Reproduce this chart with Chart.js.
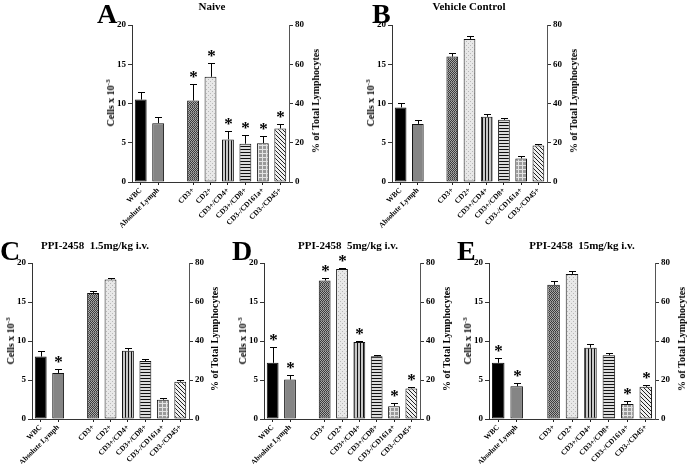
<!DOCTYPE html>
<html>
<head>
<meta charset="utf-8">
<script src="https://cdn.jsdelivr.net/npm/chart.js@4.4.1/dist/chart.umd.min.js"></script>
<style>
  body { margin: 0; background: #fff; width: 688px; height: 464px; position: relative; overflow: hidden; font-family: "Liberation Serif", "Times New Roman", serif; }
  canvas { position: absolute; }
  .t { position: absolute; font-weight: bold; white-space: nowrap; color: #000; line-height: 1; }
  .letter { font-size: 28px; }
  .title { font-size: 11px; transform: translateX(-50%); }
  .ax { font-size: 10px; transform: translate(-50%, -50%) rotate(-90deg); }
  .ax sup { font-size: 7px; vertical-align: 4px; line-height: 0; }
</style>
</head>
<body>
<script>
    const categories = ['WBC', 'Absolute Lymph', '', 'CD3+', 'CD2+', 'CD3+/CD4+', 'CD3+/CD8+', 'CD3-/CD161a+', 'CD3-/CD45+'];
    const cellTicks = [0, 5, 10, 15, 20];
    const pctTicks = [0, 20, 40, 60, 80];

    // WBC / Absolute Lymph in cells x 10^3 (left axis), subsets in % of lymphocytes (right axis)
    const naiveCells = [10.5, 7.5];
    const naiveCellsErr = [1.0, 0.8];
    const naivePct = [41.5, 53.6, 21.7, 19.5, 19.8, 27.3];
    const naivePctErr = [8.5, 7.1, 4.2, 4.4, 3.7, 2.4];
    const naiveStars = [0, 0, 0, 1, 1, 1, 1, 1, 1];

    const vehicleCells = [9.5, 7.4];
    const vehicleCellsErr = [0.55, 0.55];
    const vehiclePct = [63.9, 72.9, 33.2, 31.7, 12.0, 18.6];
    const vehiclePctErr = [2.0, 1.7, 1.5, 0.9, 1.5, 0.8];
    const vehicleStars = [0, 0, 0, 0, 0, 0, 0, 0, 0];

    const dose15Cells = [8.0, 5.9];
    const dose15CellsErr = [0.73, 0.47];
    const dose15Pct = [64.6, 71.5, 35.0, 29.7, 9.9, 19.1];
    const dose15PctErr = [1.2, 1.0, 1.5, 1.0, 1.0, 0.7];
    const dose15Stars = [0, 1, 0, 0, 0, 0, 0, 0, 0];

    const dose5Cells = [7.2, 5.05];
    const dose5CellsErr = [2.05, 0.56];
    const dose5Pct = [71.0, 76.9, 39.5, 32.2, 6.6, 15.7];
    const dose5PctErr = [1.2, 0.5, 0.7, 0.5, 1.4, 0.7];
    const dose5Stars = [1, 1, 0, 1, 1, 1, 0, 1, 1];

    const dose15mgCells = [7.2, 4.2];
    const dose15mgCellsErr = [0.68, 0.43];
    const dose15mgPct = [68.8, 74.4, 36.6, 32.7, 7.7, 16.5];
    const dose15mgPctErr = [2.2, 1.7, 1.7, 1.4, 1.5, 0.7];
    const dose15mgStars = [1, 1, 0, 0, 0, 0, 0, 1, 1];

    const FONT = '"Liberation Serif", "Times New Roman", serif';

    function makePattern(w, h, draw) {
      const c = document.createElement('canvas');
      c.width = w; c.height = h;
      const g = c.getContext('2d');
      draw(g);
      return g.createPattern(c, 'repeat');
    }

    function barFills() {
      const cd3 = makePattern(2, 6, g => {
        g.fillStyle = '#a8a8a8'; g.fillRect(0, 0, 2, 6);
        g.fillStyle = '#3a3a3a';
        for (let y = 0; y < 6; y++) g.fillRect(y % 2, y, 1, 1);
        g.fillStyle = '#777'; g.fillRect(0, 5, 2, 1);
      });
      const cd2 = makePattern(4, 4, g => {
        g.fillStyle = '#e8e8e8'; g.fillRect(0, 0, 4, 4);
        g.fillStyle = '#b8b8b8'; g.fillRect(0, 0, 1, 1); g.fillRect(2, 2, 1, 1);
      });
      const cd4 = makePattern(3, 1, g => {
        g.fillStyle = '#c8c8c8'; g.fillRect(0, 0, 3, 1);
        g.fillStyle = '#111'; g.fillRect(0, 0, 1, 1);
      });
      const cd8 = makePattern(1, 3, g => {
        g.fillStyle = '#dcdcdc'; g.fillRect(0, 0, 1, 3);
        g.fillStyle = '#111'; g.fillRect(0, 0, 1, 1);
      });
      const cd161 = makePattern(4, 4, g => {
        g.fillStyle = '#9a9a9a'; g.fillRect(0, 0, 4, 4);
        g.fillStyle = '#e4e4e4'; g.fillRect(0, 0, 4, 1); g.fillRect(0, 0, 1, 4);
      });
      const cd45 = makePattern(4, 4, g => {
        g.fillStyle = '#f0f0f0'; g.fillRect(0, 0, 4, 4);
        g.fillStyle = '#222'; for (let i = 0; i < 4; i++) g.fillRect(i, i, 1, 1);
      });
      return ['#000000', '#858585', '#fff', cd3, cd2, cd4, cd8, cd161, cd45];
    }

    const errorBars = {
      id: 'errorBars',
      afterDatasetsDraw(chart) {
        const ctx = chart.ctx;
        const stars = chart.options.plugins.errorBars.stars;
        chart.data.datasets.forEach((ds, i) => {
          const meta = chart.getDatasetMeta(i);
          const scale = chart.scales[ds.yAxisID];
          meta.data.forEach((bar, j) => {
            const v = ds.data[j];
            if (v == null) return;
            const x = Math.round(bar.x) + 0.5;
            const top = Math.round(scale.getPixelForValue(v + ds.err[j])) + 0.5;
            ctx.save();
            ctx.strokeStyle = '#000';
            ctx.lineWidth = 1;
            ctx.beginPath();
            ctx.moveTo(x, bar.y);
            ctx.lineTo(x, top);
            ctx.moveTo(x - 3.5, top);
            ctx.lineTo(x + 3.5, top);
            ctx.stroke();
            if (stars[j]) {
              ctx.fillStyle = '#000';
              ctx.font = 'bold 17px ' + FONT;
              ctx.textAlign = 'center';
              ctx.textBaseline = 'alphabetic';
              ctx.fillText('*', x, top - 3);
            }
            ctx.restore();
          });
        });
      }
    };

    const PAD_L = 30, PAD_R = 30, PAD_T = 8, PAD_B = 62;

    function addText(cls, html, left, top) {
      const d = document.createElement('div');
      d.className = 't ' + cls;
      d.innerHTML = html;
      d.style.left = left + 'px';
      d.style.top = top + 'px';
      document.body.appendChild(d);
    }

    function drawPanel(p) {
      const canvas = document.createElement('canvas');
      canvas.width = Math.round(p.R - p.L + PAD_L + PAD_R);
      canvas.height = Math.round(p.B - p.T + PAD_T + PAD_B);
      canvas.style.left = (p.L - PAD_L) + 'px';
      canvas.style.top = (p.T - PAD_T) + 'px';
      document.body.appendChild(canvas);

      const fills = barFills();
      const cellData = categories.map((c, i) => i < p.cells.length ? p.cells[i] : null);
      const cellErr = categories.map((c, i) => i < p.cellsErr.length ? p.cellsErr[i] : 0);
      const pctData = categories.map((c, i) => i >= 3 ? p.pct[i - 3] : null);
      const pctErr = categories.map((c, i) => i >= 3 ? p.pctErr[i - 3] : 0);
      const tickFont = { family: FONT, size: 9, weight: 'bold' };

      new Chart(canvas.getContext('2d'), {
        type: 'bar',
        data: {
          labels: categories,
          datasets: [
            { data: cellData, err: cellErr, yAxisID: 'y', backgroundColor: fills, borderColor: '#111', borderWidth: 1, borderSkipped: false },
            { data: pctData, err: pctErr, yAxisID: 'y2', backgroundColor: fills, borderColor: '#111', borderWidth: 1, borderSkipped: false }
          ]
        },
        options: {
          responsive: false,
          animation: false,
          layout: { padding: { top: PAD_T } },
          datasets: { bar: { grouped: false, barPercentage: 0.68, categoryPercentage: 1 } },
          plugins: {
            legend: { display: false },
            tooltip: { enabled: false },
            errorBars: { stars: p.stars }
          },
          scales: {
            x: {
              grid: {
                drawOnChartArea: false, offset: false, tickLength: 3,
                color: c => categories[c.index] ? '#222' : 'rgba(0,0,0,0)'
              },
              border: { display: true, color: '#333', width: 1 },
              ticks: { minRotation: 45, maxRotation: 45, autoSkip: false, padding: 1, color: '#000', font: { family: FONT, size: 7.5, weight: 'bold' } },
              afterFit: s => { s.height = PAD_B; }
            },
            y: {
              position: 'left', min: 0, max: 20,
              afterBuildTicks: s => { s.ticks = cellTicks.map(v => ({ value: v })); },
              grid: { drawOnChartArea: false, tickLength: 4, color: '#333' },
              border: { display: true, color: '#333', width: 1 },
              ticks: { padding: 2, color: '#000', font: tickFont },
              afterFit: s => { s.width = PAD_L; }
            },
            y2: {
              position: 'right', min: 0, max: 80,
              afterBuildTicks: s => { s.ticks = pctTicks.map(v => ({ value: v })); },
              grid: { drawOnChartArea: false, tickLength: 4, color: '#333' },
              border: { display: true, color: '#555', width: 1 },
              ticks: { padding: 2, color: '#000', font: tickFont },
              afterFit: s => { s.width = PAD_R; }
            }
          }
        },
        plugins: [errorBars]
      });

      addText('letter', p.letter, p.letterX, p.letterY);
      addText('title', p.title, p.titleX, p.titleY);
      const midY = (p.T + p.B) / 2;
      addText('ax', 'Cells x 10<sup>-3</sup>', p.L - 21, midY);
      addText('ax', '% of Total Lymphocytes', p.R + 27, midY - 2);
    }

    const panels = [
      { letter: 'A', title: 'Naive', L: 132, R: 289, T: 24.5, B: 181.5, letterX: 97, letterY: 0, titleX: 212, titleY: 1,
        cells: naiveCells, cellsErr: naiveCellsErr, pct: naivePct, pctErr: naivePctErr, stars: naiveStars },
      { letter: 'B', title: 'Vehicle Control', L: 392, R: 547, T: 24.5, B: 181.5, letterX: 372, letterY: 0, titleX: 469, titleY: 1,
        cells: vehicleCells, cellsErr: vehicleCellsErr, pct: vehiclePct, pctErr: vehiclePctErr, stars: vehicleStars },
      { letter: 'C', title: 'PPI-2458&nbsp;&nbsp;1.5mg/kg i.v.', L: 31.5, R: 188, T: 262.5, B: 418.5, letterX: 0, letterY: 237, titleX: 95, titleY: 240,
        cells: dose15Cells, cellsErr: dose15CellsErr, pct: dose15Pct, pctErr: dose15PctErr, stars: dose15Stars },
      { letter: 'D', title: 'PPI-2458&nbsp;&nbsp;5mg/kg i.v.', L: 263.5, R: 419.5, T: 262.5, B: 418.5, letterX: 232, letterY: 237, titleX: 348, titleY: 240,
        cells: dose5Cells, cellsErr: dose5CellsErr, pct: dose5Pct, pctErr: dose5PctErr, stars: dose5Stars },
      { letter: 'E', title: 'PPI-2458&nbsp;&nbsp;15mg/kg i.v.', L: 488.5, R: 654.5, T: 262.5, B: 418.5, letterX: 457, letterY: 237, titleX: 582, titleY: 240,
        cells: dose15mgCells, cellsErr: dose15mgCellsErr, pct: dose15mgPct, pctErr: dose15mgPctErr, stars: dose15mgStars }
    ];

    document.addEventListener('DOMContentLoaded', () => {
      panels.forEach(drawPanel);
    });
</script>
</body>
</html>
